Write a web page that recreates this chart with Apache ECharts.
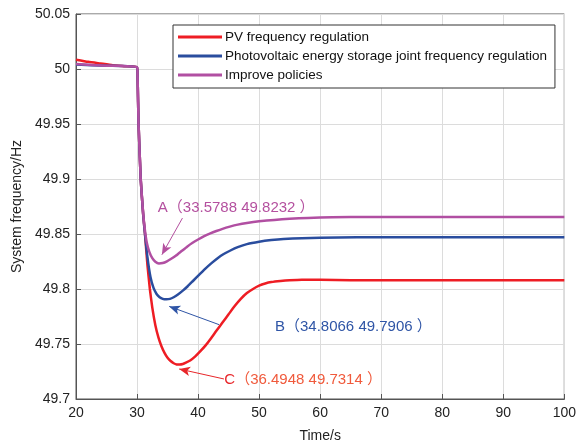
<!DOCTYPE html>
<html><head><meta charset="utf-8">
<script src="https://cdn.jsdelivr.net/npm/echarts@6/dist/echarts.min.js"></script>
<style>html,body{margin:0;padding:0;background:#fff}#c{width:579px;height:448px}</style>
</head><body><div id="c"></div>
<script>
// ---- data ----
const seriesNames = ['PV frequency regulation', 'Photovoltaic energy storage joint frequency regulation', 'Improve policies'];
const xTicks = [20, 30, 40, 50, 60, 70, 80, 90, 100];
const yTicks = [49.7, 49.75, 49.8, 49.85, 49.9, 49.95, 50, 50.05];

const redT = [20, 22, 24, 26, 28, 30, 30.1, 30.25, 30.6, 31.0, 31.3, 31.7, 32.1, 32.5, 33.0, 33.5, 34.0, 34.5, 35.0, 35.5, 36.0, 36.5, 37.0, 37.5, 38.0, 38.7, 39.5, 40.3, 41.2, 42.1, 43, 44, 45, 46, 47, 48, 49, 50, 51, 52, 53.5, 55, 57, 60, 65, 70, 80, 90, 100];
const redV = [50.0085, 50.0065, 50.005, 50.0035, 50.0025, 50.0015, 49.99, 49.95, 49.9, 49.868, 49.85, 49.822, 49.800, 49.783, 49.767, 49.756, 49.748, 49.742, 49.7375, 49.7345, 49.7325, 49.7314, 49.7313, 49.7318, 49.733, 49.735, 49.7385, 49.743, 49.7485, 49.755, 49.762, 49.7695, 49.777, 49.7845, 49.791, 49.7963, 49.800, 49.803, 49.805, 49.8063, 49.8073, 49.808, 49.8085, 49.8085, 49.808, 49.808, 49.808, 49.808, 49.808];

const blueT = [20, 25, 30, 30.1, 30.25, 30.6, 31.0, 31.3, 31.7, 32.2, 32.7, 33.2, 33.7, 34.2, 34.8, 35.4, 36.0, 36.7, 37.5, 38.3, 39.2, 40.2, 41.2, 42.2, 43.2, 44.2, 45.3, 46.5, 48, 50, 52, 54, 57, 60, 66, 80, 100];
const blueV = [50.004, 50.003, 50.0015, 49.99, 49.95, 49.9, 49.868, 49.85, 49.829, 49.811, 49.801, 49.7955, 49.7925, 49.791, 49.7906, 49.791, 49.7925, 49.795, 49.7985, 49.8025, 49.8075, 49.813, 49.8185, 49.8235, 49.828, 49.8318, 49.835, 49.838, 49.8408, 49.843, 49.8445, 49.8455, 49.8462, 49.8466, 49.847, 49.847, 49.847];

const magT = [20, 25, 30, 30.1, 30.25, 30.6, 31.0, 31.3, 31.6, 32.0, 32.5, 33.0, 33.58, 34.2, 34.9, 35.6, 36.4, 37.3, 38.2, 39.1, 40, 41, 42, 43, 44, 45.2, 46.5, 48, 50, 52.5, 55, 58, 62, 68, 80, 100];
const magV = [50.0045, 50.003, 50.0015, 49.99, 49.95, 49.9, 49.869, 49.853, 49.842, 49.834, 49.828, 49.8247, 49.8232, 49.8236, 49.8252, 49.8275, 49.8305, 49.8345, 49.8385, 49.842, 49.845, 49.848, 49.8505, 49.8527, 49.8547, 49.8567, 49.8585, 49.860, 49.8615, 49.8628, 49.8638, 49.8646, 49.8652, 49.8655, 49.8655, 49.8655];

// annotations: label + extreme point, arrow [start, tip], text anchor
const annA = ['A', 33.5788, 49.8232];
const annB = ['B', 34.8066, 49.7906];
const annC = ['C', 36.4948, 49.7314];
const arrowA = [[37.44, 49.8645], [34.07, 49.8312]];
const arrowB = [[43.43, 49.7676], [35.27, 49.7842]];
const arrowC = [[44.24, 49.7182], [36.90, 49.7273]];
const textA = [33.4, 49.874];
const textB = [52.6, 49.7657];
const textC = [44.3, 49.7177];

const zip = (t, v) => t.map((x, i) => [x, v[i]]);
const colors = ['#ee1d24', '#2a4d9e', '#b14fa2'];
const FONT = 'Liberation Sans, Arial, Noto Sans CJK SC';

function ann(color, arrow, textPos, a, rich) {
  return {
    markLine: {
      silent: true, animation: false,
      symbol: ['none', 'arrow'], symbolSize: [7, 11],
      lineStyle: { color: color, width: 1, type: 'solid' },
      label: { show: false },
      data: [[{ coord: arrow[0] }, { coord: arrow[1] }]]
    },
    markPoint: {
      silent: true, animation: false,
      symbol: 'circle', symbolSize: 0,
      data: [{ coord: textPos, value: 0 }],
      label: {
        show: true, position: 'right', distance: 0,
        fontFamily: FONT, fontSize: 15,
        color: color,
        formatter: rich ? '{l|' + a[0] + '}{n|（' + a[1] + ' ' + a[2] + ' ）}' : a[0] + '（' + a[1] + ' ' + a[2] + ' ）',
        rich: rich || {}
      }
    }
  };
}

const chart = echarts.init(document.getElementById('c'), null, { renderer: 'canvas' });
const fmt = v => String(+(+v).toFixed(2));
chart.setOption({
  animation: false,
  backgroundColor: '#fff',
  color: colors,
  grid: { left: 76, right: 13, top: 14, bottom: 49, show: true, borderColor: '#555', borderWidth: 1, backgroundColor: 'transparent' },
  legend: {
    orient: 'vertical', left: 173, top: 25,
    data: seriesNames,
    backgroundColor: '#fff', borderColor: '#333', borderWidth: 1,
    padding: [5, 8, 6, 5], itemGap: 5, itemWidth: 44, itemHeight: 3,
    icon: 'rect',
    textStyle: { fontFamily: 'Liberation Sans, Arial', fontSize: 13.5, color: '#111', padding: [0, 0, 0, -2] }
  },
  xAxis: {
    type: 'value', min: 20, max: 100, interval: 10,
    name: 'Time/s', nameLocation: 'middle', nameGap: 30,
    nameTextStyle: { fontFamily: FONT, fontSize: 14, color: '#222' },
    axisLine: { show: true, onZero: false, lineStyle: { color: '#555' } },
    axisTick: { show: true, inside: true, length: 5, lineStyle: { color: '#555' } },
    axisLabel: { fontFamily: FONT, fontSize: 14, color: '#222', margin: 7, formatter: fmt },
    splitLine: { show: true, lineStyle: { color: '#dcdcdc', width: 1 } }
  },
  yAxis: {
    type: 'value', min: 49.7, max: 50.05, interval: 0.05,
    name: 'System frequency/Hz', nameLocation: 'middle', nameGap: 47,
    nameTextStyle: { fontFamily: FONT, fontSize: 14, color: '#222' },
    axisLine: { show: true, onZero: false, lineStyle: { color: '#555' } },
    axisTick: { show: true, inside: true, length: 5, lineStyle: { color: '#555' } },
    axisLabel: { fontFamily: FONT, fontSize: 14, color: '#222', margin: 6, formatter: fmt },
    splitLine: { show: true, lineStyle: { color: '#dcdcdc', width: 1 } }
  },
  series: [
    Object.assign({
      name: seriesNames[0], type: 'line', data: zip(redT, redV), showSymbol: false, smooth: 0.15,
      lineStyle: { width: 2.5, color: colors[0], join: 'round' }, itemStyle: { color: colors[0] }, z: 3
    }, ann('#e8262a', arrowC, textC, annC, { l: { color: '#e8262a', fontSize: 15, fontFamily: FONT }, n: { color: '#f05a3c', fontSize: 15, fontFamily: FONT } })),
    Object.assign({
      name: seriesNames[1], type: 'line', data: zip(blueT, blueV), showSymbol: false, smooth: 0.15,
      lineStyle: { width: 2.5, color: colors[1], join: 'round' }, itemStyle: { color: colors[1] }, z: 4
    }, ann('#2f55a6', arrowB, textB, annB)),
    Object.assign({
      name: seriesNames[2], type: 'line', data: zip(magT, magV), showSymbol: false, smooth: 0.15,
      lineStyle: { width: 2.5, color: colors[2], join: 'round' }, itemStyle: { color: colors[2] }, z: 5
    }, ann('#b4509f', arrowA, textA, annA))
  ]
});
</script></body></html>
